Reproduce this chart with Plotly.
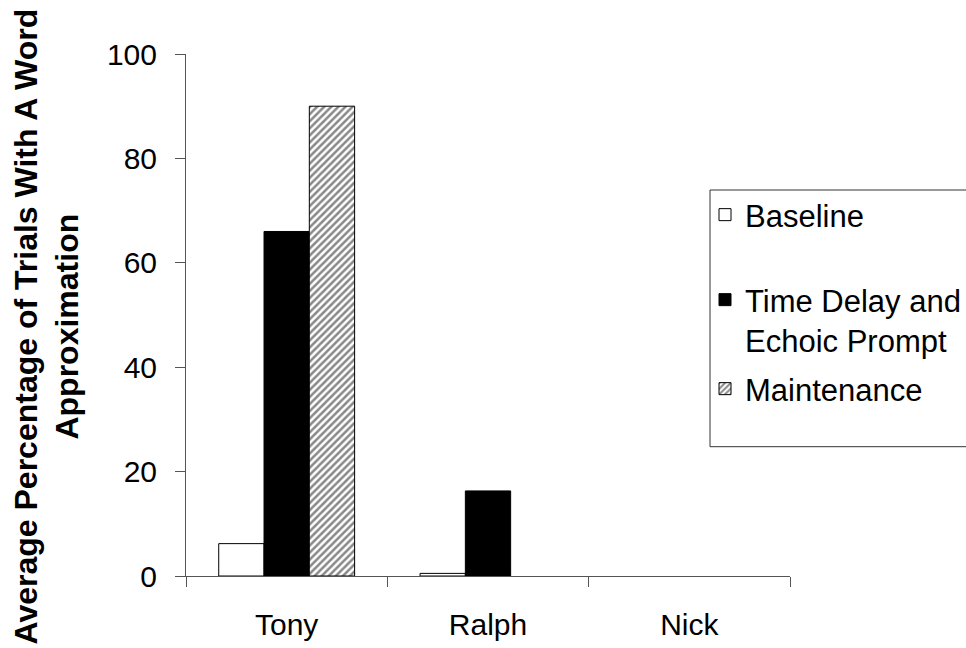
import plotly.graph_objects as go

participants = ["Tony", "Ralph", "Nick"]
baseline = [6.2, 0.5, None]
time_delay = [66, 16.3, None]
maintenance = [90, None, None]
series_names = ["Baseline", "Time Delay and<br>Echoic Prompt", "Maintenance"]
y_ticks = [0, 20, 40, 60, 80, 100]
y_title = "Average Percentage of Trials With A Word<br>Approximation"

FONT = "Liberation Sans, Arial, sans-serif"

W, H = 966, 648
L, R, T, B = 186, 176, 54, 72
PW, PH = W - L - R, H - T - B


def px_x(x):
    return (x - L) / PW


def px_y(y):
    return (H - B - y) / PH


fig = go.Figure()
fig.add_trace(go.Bar(
    x=participants, y=baseline, name=series_names[0],
    marker=dict(color="white", line=dict(color="black", width=1)),
    legend="legend", showlegend=True,
))
fig.add_trace(go.Bar(
    x=participants, y=time_delay, name=series_names[1],
    marker=dict(color="black", line=dict(color="black", width=1)),
    legend="legend2", showlegend=True,
))
fig.add_trace(go.Bar(
    x=participants, y=maintenance, name=series_names[2],
    marker=dict(color="white", line=dict(color="black", width=1),
                pattern=dict(shape="/", fgcolor="#111111", bgcolor="white",
                             size=5, solidity=0.5)),
    legend="legend3", showlegend=True,
))

leg_common = dict(
    xanchor="left", yanchor="middle", x=px_x(705),
    font=dict(family=FONT, size=31, color="black"),
    bgcolor="rgba(0,0,0,0)", borderwidth=0, valign="top",
    visible=True,
)

fig.update_layout(
    width=W, height=H, autosize=False,
    margin=dict(l=L, r=R, t=T, b=B, pad=0, autoexpand=False),
    paper_bgcolor="white", plot_bgcolor="white",
    barmode="group", bargap=0.325, bargroupgap=0,
    showlegend=True,
    font=dict(family=FONT, size=30, color="black"),
    legend=dict(y=px_y(215), **leg_common),
    legend2=dict(y=px_y(320), **leg_common),
    legend3=dict(y=px_y(389), **leg_common),
    xaxis=dict(
        showline=True, linecolor="#555555", linewidth=1,
        ticks="outside", tickson="boundaries", ticklen=10,
        tickcolor="#555555", tickwidth=1,
        showgrid=False, zeroline=False, automargin=False,
        tickfont=dict(family=FONT, size=30, color="black"),
        ticklabelstandoff=22,
    ),
    yaxis=dict(
        range=[0, 100], tickvals=y_ticks,
        showline=True, linecolor="#555555", linewidth=1,
        ticks="outside", ticklen=10, tickcolor="#555555", tickwidth=1,
        showgrid=False, zeroline=False, automargin=False,
        tickfont=dict(family=FONT, size=30, color="black"),
        ticklabelstandoff=12,
    ),
    shapes=[dict(
        type="rect", xref="paper", yref="paper",
        x0=px_x(710), x1=px_x(990), y0=px_y(446.7), y1=px_y(190),
        line=dict(color="#333333", width=1), fillcolor="rgba(0,0,0,0)",
        layer="below",
    )],
    annotations=[dict(
        text=y_title, textangle=-90, showarrow=False,
        xref="paper", yref="paper", x=px_x(46), y=px_y(326.5),
        xanchor="center", yanchor="middle",
        font=dict(family=FONT, size=32, color="black", weight="bold"),
    )],
)

fig.write_html(
    "out.html",
    config=dict(displayModeBar=False, responsive=False),
    post_script="document.body.style.margin='0';document.body.style.overflow='hidden';",
)
